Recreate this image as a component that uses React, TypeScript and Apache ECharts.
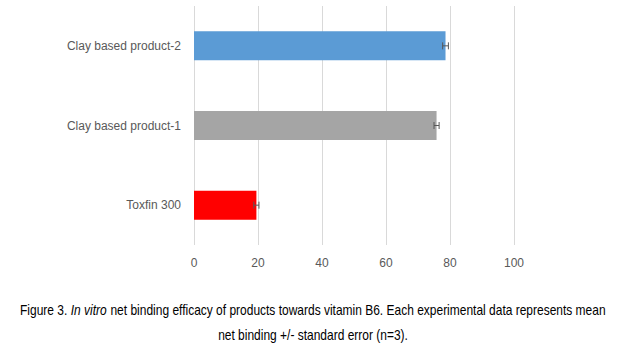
import React, { useEffect, useRef } from "react";
import * as echarts from "echarts";

const categories = ["Toxfin 300", "Clay based product-1", "Clay based product-2"];
const values = [19.5, 75.8, 78.6];
const errors = [0.8, 0.8, 0.9];
const colors = ["#FF0000", "#A5A5A5", "#5B9BD5"];
const xTicks = { min: 0, max: 100, interval: 20 };

export default function App() {
  const ref = useRef<HTMLDivElement>(null);
  useEffect(() => {
    const chart = echarts.init(ref.current!, null, { renderer: "svg" });
    const font = "'Liberation Sans', Arial, sans-serif";
    const narrow = "'Liberation Sans', Arial, sans-serif";
    chart.setOption({
      animation: false,
      grid: { left: 194, right: 111, top: 6, bottom: 106 },
      xAxis: {
        type: "value",
        min: xTicks.min,
        max: xTicks.max,
        interval: xTicks.interval,
        axisLine: { show: false },
        axisTick: { show: false },
        axisLabel: { color: "#595959", fontSize: 12, fontFamily: font, margin: 12 },
        splitLine: { lineStyle: { color: "#D9D9D9", width: 1 } },
      },
      yAxis: {
        type: "category",
        data: categories,
        axisLine: { show: false },
        axisTick: { show: false },
        axisLabel: { color: "#595959", fontSize: 12, fontFamily: font, margin: 13 },
      },
      series: [
        {
          type: "bar",
          barWidth: 29,
          data: values.map((v, i) => ({ value: v, itemStyle: { color: colors[i] } })),
        },
        {
          type: "custom",
          data: values.map((v, i) => [i, v - errors[i], v + errors[i]]),
          renderItem: (params: any, api: any) => {
            const idx = api.value(0);
            const lo = api.coord([api.value(1), idx]);
            const hi = api.coord([api.value(2), idx]);
            const h = 3.5;
            const st = { stroke: "#595959", lineWidth: 1 };
            return {
              type: "group",
              children: [
                { type: "line", shape: { x1: lo[0], y1: lo[1], x2: hi[0], y2: hi[1] }, style: st },
                { type: "line", shape: { x1: lo[0], y1: lo[1] - h, x2: lo[0], y2: lo[1] + h }, style: st },
                { type: "line", shape: { x1: hi[0], y1: hi[1] - h, x2: hi[0], y2: hi[1] + h }, style: st },
              ],
            };
          },
          z: 5,
        },
      ],
      graphic: [
        {
          type: "text",
          x: 313,
          y: 310,
          scaleX: 0.857,
          style: {
            text: "Figure 3. {i|In vitro} net binding efficacy of products towards vitamin B6. Each experimental data represents mean",
            rich: { i: { fontStyle: "italic", fontFamily: narrow, fontSize: 14, fill: "#000" } },
            fontFamily: narrow,
            fontSize: 14,
            fill: "#000",
            align: "center",
            verticalAlign: "middle",
          },
        },
        {
          type: "text",
          x: 313,
          y: 335,
          scaleX: 0.857,
          style: {
            text: "net binding +/- standard error (n=3).",
            fontFamily: narrow,
            fontSize: 14,
            fill: "#000",
            align: "center",
            verticalAlign: "middle",
          },
        },
      ],
    });
    return () => chart.dispose();
  }, []);
  return <div ref={ref} style={{ width: 625, height: 351, position: "absolute", left: 0, top: 0 }} />;
}
